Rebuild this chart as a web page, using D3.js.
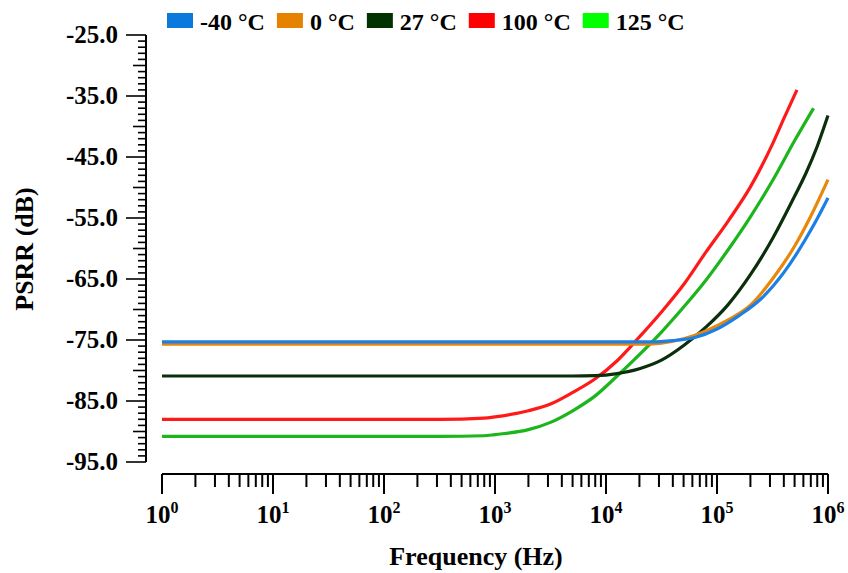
<!DOCTYPE html>
<html>
<head>
<meta charset="utf-8">
<script src="https://cdn.jsdelivr.net/npm/d3@7"></script>
<style>
  html, body { margin: 0; padding: 0; background: #fff; }
  svg { display: block; }
  text { font-family: "Liberation Serif", "Times New Roman", serif; font-weight: bold; fill: #000; }
</style>
</head>
<body>
<svg id="chart" width="848" height="573"></svg>
<script>
// PSRR vs frequency at five temperatures
const seriesNames = ["-40 °C", "0 °C", "27 °C", "100 °C", "125 °C"];
const swatchColors = ["#0a78dc", "#e58200", "#003300", "#ff0000", "#00ff00"];
const lineColors   = ["#1a80e6", "#e8870a", "#0a2f0a", "#ff1a1a", "#1cb51c"];

// frequency (Hz) / PSRR (dB) pairs for each temperature
const freqM40 = [1, 10, 100, 1000, 10000, 25100, 39800, 63100, 100000, 158000, 251000, 398000, 631000, 794000, 1000000];
const psrrM40 = [-75.3, -75.3, -75.3, -75.3, -75.3, -75.3, -75.1, -74.6, -73.2, -71.0, -68.2, -64.0, -58.4, -55.2, -51.7];

const freq0 = [1, 10, 100, 1000, 10000, 20000, 31600, 50100, 79400, 126000, 200000, 316000, 501000, 708000, 1000000];
const psrr0 = [-75.7, -75.7, -75.7, -75.7, -75.7, -75.7, -75.5, -74.8, -73.5, -71.7, -69.3, -65.0, -59.6, -54.5, -48.7];

const freq27 = [1, 10, 100, 1000, 5010, 7940, 12600, 20000, 31600, 50100, 79400, 126000, 200000, 316000, 501000, 631000, 794000, 1000000];
const psrr27 = [-80.9, -80.9, -80.9, -80.9, -80.9, -80.85, -80.5, -79.7, -78.3, -75.9, -72.9, -69.2, -64.3, -58.4, -51.4, -47.7, -43.4, -38.2];

const freq100 = [1, 10, 100, 316, 794, 1000, 2000, 3160, 5010, 7940, 12600, 20000, 31600, 50100, 79400, 126000, 200000, 316000, 398000, 525000];
const psrr100 = [-88.0, -88.0, -88.0, -88.0, -87.8, -87.6, -86.6, -85.5, -83.6, -81.4, -78.4, -74.5, -70.4, -65.9, -60.6, -55.5, -49.9, -42.9, -38.8, -34.0];

const freq125 = [1, 10, 100, 316, 794, 1000, 2000, 3160, 5010, 7940, 12600, 20000, 31600, 50100, 79400, 126000, 200000, 316000, 501000, 741000];
const psrr125 = [-90.8, -90.8, -90.8, -90.8, -90.7, -90.5, -89.7, -88.5, -86.6, -84.2, -80.9, -77.4, -73.7, -69.6, -65.2, -60.2, -54.8, -48.9, -42.3, -37.0];

const seriesFreq = [freqM40, freq0, freq27, freq100, freq125];
const seriesPsrr = [psrrM40, psrr0, psrr27, psrr100, psrr125];

const yTickValues = [-25, -35, -45, -55, -65, -75, -85, -95];
const xDecades = [0, 1, 2, 3, 4, 5, 6];

const svg = d3.select("#chart");

const x = d3.scaleLog().domain([1, 1e6]).range([162, 828]);
const y = d3.scaleLinear().domain([-95, -25]).range([462, 35]);

// ---- y axis (ruler style: major every 10, mid every 5, minor every 1) ----
const yAxisX = 146;
const gy = svg.append("g");
gy.append("line")
  .attr("x1", yAxisX).attr("x2", yAxisX)
  .attr("y1", y(-25)).attr("y2", y(-95))
  .attr("stroke", "#000").attr("stroke-width", 2);

const yMinor = d3.range(-95, -24, 1);
gy.selectAll("line.tick")
  .data(yMinor)
  .join("line")
  .attr("class", "tick")
  .attr("x1", d => yAxisX - (yTickValues.includes(d) ? 20 : ((d + 95) % 5 === 0 ? 13 : 8)))
  .attr("x2", yAxisX)
  .attr("y1", d => y(d)).attr("y2", d => y(d))
  .attr("stroke", "#000").attr("stroke-width", 1.6);

gy.selectAll("text.ylab")
  .data(yTickValues)
  .join("text")
  .attr("class", "ylab")
  .attr("x", 118)
  .attr("y", d => y(d) + 8)
  .attr("text-anchor", "end")
  .attr("font-size", 25)
  .text(d => d.toFixed(1));

svg.append("text")
  .attr("transform", "translate(33,249) rotate(-90)")
  .attr("text-anchor", "middle")
  .attr("font-size", 26)
  .text("PSRR (dB)");

// ---- x axis (log, detached below the plot) ----
const xAxisY = 474;
const gx = svg.append("g");
gx.append("line")
  .attr("x1", x(1)).attr("x2", x(1e6))
  .attr("y1", xAxisY).attr("y2", xAxisY)
  .attr("stroke", "#000").attr("stroke-width", 2);

const xTicks = x.ticks();
gx.selectAll("line.tick")
  .data(xTicks)
  .join("line")
  .attr("class", "tick")
  .attr("x1", d => x(d)).attr("x2", d => x(d))
  .attr("y1", xAxisY)
  .attr("y2", d => xAxisY + (Math.abs(Math.log10(d) - Math.round(Math.log10(d))) < 1e-9 ? 20 : 13))
  .attr("stroke", "#000").attr("stroke-width", 2);

const xl = gx.selectAll("text.xlab")
  .data(xDecades)
  .join("text")
  .attr("class", "xlab")
  .attr("x", d => x(Math.pow(10, d)))
  .attr("y", 523)
  .attr("text-anchor", "middle")
  .attr("font-size", 25);
xl.append("tspan").text("10");
xl.append("tspan").attr("dy", -10).attr("font-size", 16).text(d => d);

svg.append("text")
  .attr("x", 476).attr("y", 565)
  .attr("text-anchor", "middle")
  .attr("font-size", 26)
  .text("Frequency (Hz)");

// ---- curves ----
const line = d3.line()
  .x(d => x(d[0]))
  .y(d => y(d[1]))
  .curve(d3.curveMonotoneX);

const drawOrder = [4, 3, 2, 1, 0];
svg.append("g").selectAll("path")
  .data(drawOrder)
  .join("path")
  .attr("d", i => line(seriesFreq[i].map((f, k) => [f, seriesPsrr[i][k]])))
  .attr("fill", "none")
  .attr("stroke", i => lineColors[i])
  .attr("stroke-width", 3.2)
  .attr("stroke-linejoin", "round");

// ---- legend ----
const legend = svg.append("g");
let lx = 167;
seriesNames.forEach((name, i) => {
  legend.append("rect")
    .attr("x", lx).attr("y", 13)
    .attr("width", 26).attr("height", 15)
    .attr("fill", swatchColors[i]);
  const t = legend.append("text")
    .attr("x", lx + 33).attr("y", 30)
    .attr("font-size", 24)
    .text(name);
  lx += 33 + t.node().getComputedTextLength() + 12;
});
</script>
</body>
</html>
